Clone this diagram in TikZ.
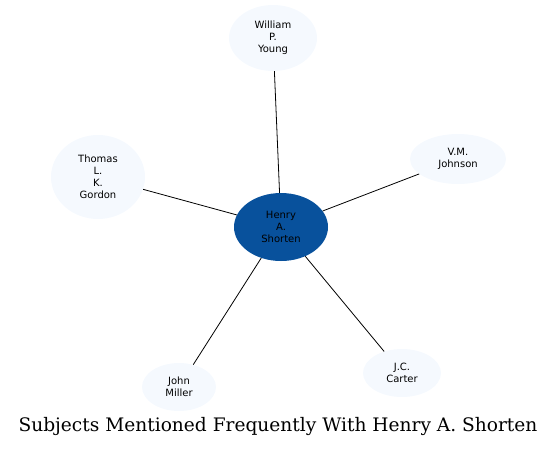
\documentclass[tikz,border=0pt]{standalone}
\usepackage{fontspec}
\newfontfamily\labelfont{DejaVu Sans}
\newfontfamily\titlefont{DejaVu Serif}
\usetikzlibrary{shapes.geometric}
\definecolor{paleblue}{HTML}{F5F9FE}
\definecolor{deepblue}{HTML}{08519C}

\begin{document}
\begin{tikzpicture}[
  x=1pt,y=-1pt,
  person/.style={ellipse,draw=none,fill=paleblue,inner sep=0pt,align=center,
    font=\labelfont\fontsize{10}{12}\selectfont},
  hub/.style={person,fill=deepblue},
  link/.style={draw=black,line width=0.8pt}
]
  \useasboundingbox (0,0) rectangle (557,448);
  \node[hub,minimum width=94,minimum height=68] (henry) at (281,227) {Henry\\A.\\Shorten};
  \node[person,minimum width=88,minimum height=66] (william) at (273,38) {William\\P.\\Young};
  \node[person,minimum width=94,minimum height=84] (thomas) at (98,177) {Thomas\\L.\\K.\\Gordon};
  \node[person,minimum width=96,minimum height=50] (johnson) at (458,159) {V.M.\\Johnson};
  \node[person,minimum width=74,minimum height=48] (miller) at (179,387) {John\\Miller};
  \node[person,minimum width=78,minimum height=48] (carter) at (402,373) {J.C.\\Carter};
  \draw[link] (henry) -- (william);
  \draw[link] (henry) -- (thomas);
  \draw[link] (henry) -- (johnson);
  \draw[link] (henry) -- (miller);
  \draw[link] (henry) -- (carter);
  \node[font=\titlefont\fontsize{18.6}{22}\selectfont] (title) at (278,426) {Subjects Mentioned Frequently With Henry A. Shorten};
\end{tikzpicture}
\end{document}
